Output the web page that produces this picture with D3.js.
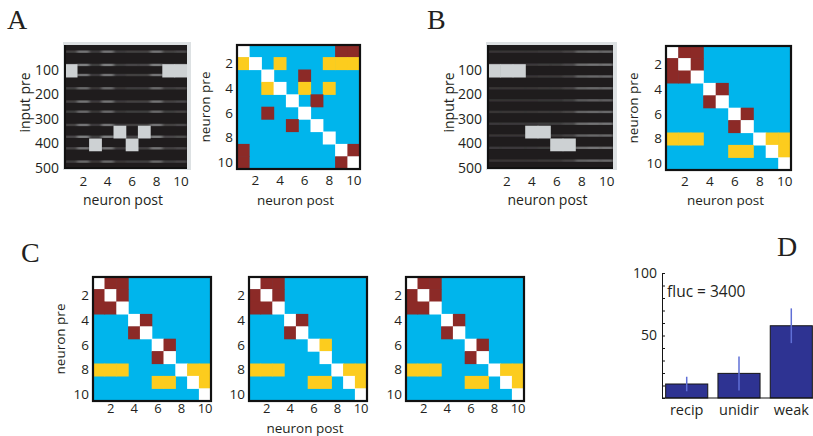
<!DOCTYPE html>
<html lang="en">
<head>
<meta charset="UTF-8">
<title></title>
<style>
    body { margin: 0; background: #fff; }
    svg text { font-family: "Open Sans", sans-serif; fill: #231f20; }
    .panel-label { font-family: "Liberation Serif", serif; font-size: 28px; }
</style>
</head>
<body>
<svg id="fig" width="813" height="436"></svg>
<script src="https://cdnjs.cloudflare.com/ajax/libs/d3/7.8.5/d3.min.js"></script>
<script>
// ---- data ----
var neurons = d3.range(1, 11);
var neuronTicks = [2, 4, 6, 8, 10];
var inputTicks = [100, 200, 300, 400, 500];

// W = self, C = no link, R = reciprocal, Y = unidirectional
var matA = [
    "WCCCCCCCRR",
    "YWCYCCCYYY",
    "CCWCCRCCCC",
    "CCYWCYCYCC",
    "CCCCWCRCCC",
    "CCRCCWCCCC",
    "CCCCRCWCCC",
    "CCCCCCCWCC",
    "RCCCCCCCWR",
    "RCCCCCCCRW"
];
var matB = [
    "WRRCCCCCCC",
    "RWRCCCCCCC",
    "RRWCCCCCCC",
    "CCCWRCCCCC",
    "CCCRWCCCCC",
    "CCCCCWRCCC",
    "CCCCCRWCCC",
    "YYYCCCCWYY",
    "CCCCCYYCWY",
    "CCCCCCCCCW"
];
var matC2 = [
    "WRRCCCCCCC",
    "RWRCCCCCCC",
    "RRWCCCCCCC",
    "CCCWRCCCCC",
    "CCCRWCCCCC",
    "CCCCCWYCCC",
    "CCCCCCWCCC",
    "YYYCCCCWYY",
    "CCCCCYYCWY",
    "CCCCCCCCCW"
];

// bright blocks in the input weight images: [post neuron, input from, input to]
var blocksA = [[1, 78, 132], [9, 78, 132], [10, 78, 132], [5, 328, 380], [7, 328, 380], [3, 380, 432], [6, 380, 432]];
var blocksB = [[1, 78, 132], [2, 78, 132], [3, 78, 132], [4, 328, 380], [5, 328, 380], [6, 380, 432], [7, 380, 432]];
// faint streak rows and their strength per row / per column
var streakRowsA = [27, 81, 122, 176, 230, 271, 325, 373, 420, 474];
var rowGainA = [0.8, 0.9, 0.8, 0.7, 0.8, 0.7, 0.8, 0.9, 0.8, 0.7];
var colGainA = [0.25, 0.6, 0.2, 0.6, 0.2, 0.25, 0.25, 0.6, 0.25, 0.3];
var streakRowsB = [27, 80, 128, 176, 225, 272, 320, 368, 418, 470];
var rowGainB = [0.7, 0.8, 0.7, 0.7, 0.6, 0.7, 0.8, 0.7, 0.8, 0.7];
var colGainB = [0.2, 0.2, 0.2, 0.2, 0.22, 0.22, 0.3, 0.55, 0.6, 0.6];

// panel D
var barCats = ["recip", "unidir", "weak"];
var barMeans = [11.2, 19.7, 57.8];
var barErrs = [5.8, 13.6, 13.9];
var flucText = "fluc = 3400";

// ---- drawing ----
var svg = d3.select("#fig");
var cellColor = d3.scaleOrdinal().domain(["W", "C", "R", "Y"])
    .range(["#ffffff", "#00b5ec", "#8c2a27", "#fccc1e"]);
var dark = "#1f1c1d", light = "#cdd1d3";

var defs = svg.append("defs");
defs.append("filter").attr("id", "streak").attr("x", "-5%").attr("y", "-50%")
    .attr("width", "110%").attr("height", "200%")
    .append("feGaussianBlur").attr("stdDeviation", "1.8 0.5");

function styleAxis(g, size) {
    g.select(".domain").remove();
    g.selectAll("text").style("font-size", (size || 13.5) + "px").attr("fill", "#231f20");
}

function drawMatrix(x0, y0, w, h, data, opt) {
    var g = svg.append("g");
    var xs = d3.scaleBand().domain(neurons).range([x0, x0 + w]);
    var ys = d3.scaleBand().domain(neurons).range([y0, y0 + h]);
    g.append("rect").attr("x", x0).attr("y", y0).attr("width", w).attr("height", h)
        .attr("fill", cellColor("C"));
    data.forEach(function(row, i) {
        var cells = row.split("").map(function(c, j) { return {c: c, j: j + 1}; })
            .filter(function(d) { return d.c !== "C"; });
        g.selectAll(null).data(cells).enter().append("rect")
            .attr("x", function(d) { return xs(d.j) - 0.3; })
            .attr("y", ys(i + 1) - 0.3)
            .attr("width", xs.bandwidth() + 0.6)
            .attr("height", ys.bandwidth() + 0.6)
            .attr("fill", function(d) { return cellColor(d.c); });
    });
    g.append("rect").attr("x", x0).attr("y", y0).attr("width", w).attr("height", h)
        .attr("fill", "none").attr("stroke", "#111").attr("stroke-width", 2.2);
    g.append("g").attr("transform", "translate(0," + (y0 + h) + ")")
        .call(d3.axisBottom(xs).tickValues(neuronTicks).tickSize(0).tickPadding(opt.xPad || 6))
        .call(styleAxis, opt.xSize);
    g.append("g").attr("transform", "translate(" + x0 + ",0)")
        .call(d3.axisLeft(ys).tickValues(neuronTicks).tickSize(0).tickPadding(4))
        .call(styleAxis);
    if (opt.yTitle) {
        g.append("text").attr("transform", "translate(" + opt.yTitleX + "," + (y0 + h / 2) + ") rotate(-90)")
            .attr("text-anchor", "middle").attr("dy", "0.35em").style("font-size", "13.5px").text(opt.yTitle);
    }
    if (opt.xTitle) {
        g.append("text").attr("x", x0 + w / 2 - 3).attr("y", opt.xTitleY)
            .attr("text-anchor", "middle").attr("dy", "0.35em").style("font-size", "13.5px").text(opt.xTitle);
    }
}

function drawInputs(x0, y0, w, h, blocks, rows, rowGain, colGain, opt) {
    var g = svg.append("g");
    var xs = d3.scaleBand().domain(neurons).range([x0, x0 + w]);
    var ys = d3.scaleLinear().domain([0, 500]).range([y0, y0 + h]);
    var shade = d3.interpolateRgb(dark, light);
    g.append("rect").attr("x", x0 - 2).attr("y", y0 - 3).attr("width", w + 6).attr("height", h + 5)
        .attr("fill", "#dde1e3");
    g.append("rect").attr("x", x0).attr("y", y0).attr("width", w).attr("height", h).attr("fill", dark);
    var clipId = "clip" + Math.round(x0);
    defs.append("clipPath").attr("id", clipId).append("rect")
        .attr("x", x0).attr("y", y0).attr("width", w).attr("height", h);
    var inner = g.append("g").attr("clip-path", "url(#" + clipId + ")");
    var streaks = inner.append("g").attr("filter", "url(#streak)");
    rows.forEach(function(r, i) {
        streaks.selectAll(null).data(colGain).enter().append("rect")
            .attr("x", function(d, j) { return xs(j + 1); })
            .attr("y", ys(r) - 1.2)
            .attr("width", xs.bandwidth())
            .attr("height", 2.4)
            .attr("fill", function(d) { return shade(d * rowGain[i]); });
    });
    inner.selectAll(".blk").data(blocks).enter().append("rect")
        .attr("x", function(d) { return xs(d[0]) - 0.3; })
        .attr("y", function(d) { return ys(d[1]); })
        .attr("width", xs.bandwidth() + 0.6)
        .attr("height", function(d) { return ys(d[2]) - ys(d[1]); })
        .attr("fill", light);
    g.append("path").attr("d", "M" + x0 + "," + y0 + "V" + (y0 + h) + "H" + (x0 + w))
        .attr("fill", "none").attr("stroke", "#111").attr("stroke-width", 2);
    g.append("g").attr("transform", "translate(0," + (y0 + h) + ")")
        .call(d3.axisBottom(xs).tickValues(neuronTicks).tickSize(0).tickPadding(8))
        .call(styleAxis);
    g.append("g").attr("transform", "translate(" + (x0 - 4) + ",0)")
        .call(d3.axisLeft(ys).tickValues(inputTicks).tickSize(0).tickPadding(2))
        .call(styleAxis, 14);
    g.append("text").attr("transform", "translate(" + opt.yTitleX + "," + (y0 + h / 2 - 4) + ") rotate(-90)")
        .attr("text-anchor", "middle").attr("dy", "0.35em").style("font-size", "14px").text("input pre");
    g.append("text").attr("x", x0 + w / 2 - 3).attr("y", opt.xTitleY)
        .attr("text-anchor", "middle").attr("dy", "0.35em").style("font-size", "14px").text("neuron post");
}

// panel A
drawInputs(65, 45, 122, 123, blocksA, streakRowsA, rowGainA, colGainA, {yTitleX: 25, xTitleY: 200});
drawMatrix(237, 45, 123, 124, matA, {yTitle: "neuron pre", yTitleX: 205, xTitle: "neuron post", xTitleY: 200});
// panel B
drawInputs(488, 45, 125, 123, blocksB, streakRowsB, rowGainB, colGainB, {yTitleX: 449, xTitleY: 200});
drawMatrix(666, 46, 125, 124, matB, {yTitle: "neuron pre", yTitleX: 633, xTitle: "neuron post", xTitleY: 200});
// panel C
drawMatrix(93, 277, 118, 124, matB, {yTitle: "neuron pre", yTitleX: 60, xPad: 3, xSize: 13});
drawMatrix(249, 277, 118, 124, matC2, {xTitle: "neuron post", xTitleY: 428, xPad: 3, xSize: 13});
drawMatrix(406, 277, 118, 124, matB, {xPad: 3, xSize: 13});

// panel D
var dx = d3.scaleBand().domain(barCats).range([662, 816]).paddingInner(0.195).paddingOuter(0.07);
var dy = d3.scaleLinear().domain([0, 100]).range([398, 273]);
var gD = svg.append("g");
gD.selectAll(".bar").data(barCats).enter().append("rect")
    .attr("x", function(d) { return dx(d); })
    .attr("y", function(d, i) { return dy(barMeans[i]); })
    .attr("width", dx.bandwidth())
    .attr("height", function(d, i) { return dy(0) - dy(barMeans[i]); })
    .attr("fill", "#2e3392").attr("stroke", "#151515").attr("stroke-width", 1);
gD.selectAll(".err").data(barCats).enter().append("line")
    .attr("x1", function(d) { return dx(d) + dx.bandwidth() / 2; })
    .attr("x2", function(d) { return dx(d) + dx.bandwidth() / 2; })
    .attr("y1", function(d, i) { return dy(barMeans[i] - barErrs[i]); })
    .attr("y2", function(d, i) { return dy(barMeans[i] + barErrs[i]); })
    .attr("stroke", "#5f6fd6").attr("stroke-width", 1.5);
gD.append("line").attr("x1", 662).attr("x2", 813).attr("y1", dy(0)).attr("y2", dy(0))
    .attr("stroke", "#151515").attr("stroke-width", 1);
gD.append("g").attr("transform", "translate(662,0)")
    .call(d3.axisLeft(dy).tickValues(d3.range(0, 101, 10)).tickSize(-3).tickPadding(5)
        .tickFormat(function(d) { return d === 50 || d === 100 ? d : ""; }))
    .call(function(g) {
        g.select(".domain").attr("stroke", "#151515");
        g.selectAll("line").attr("stroke", "#151515");
        g.selectAll("text").style("font-size", "14px");
    });
gD.append("g").attr("transform", "translate(0," + dy(0) + ")")
    .call(d3.axisBottom(dx).tickSize(0).tickPadding(7))
    .call(styleAxis, 14.5);
gD.append("text").attr("x", 667).attr("y", 297).style("font-size", "15.5px").text(flucText);

// panel letters
svg.append("text").attr("class", "panel-label").attr("x", 7).attr("y", 29).text("A");
svg.append("text").attr("class", "panel-label").attr("x", 427).attr("y", 29).text("B");
svg.append("text").attr("class", "panel-label").attr("x", 21).attr("y", 262).text("C");
svg.append("text").attr("class", "panel-label").attr("x", 777).attr("y", 256).text("D");
</script>
</body>
</html>
